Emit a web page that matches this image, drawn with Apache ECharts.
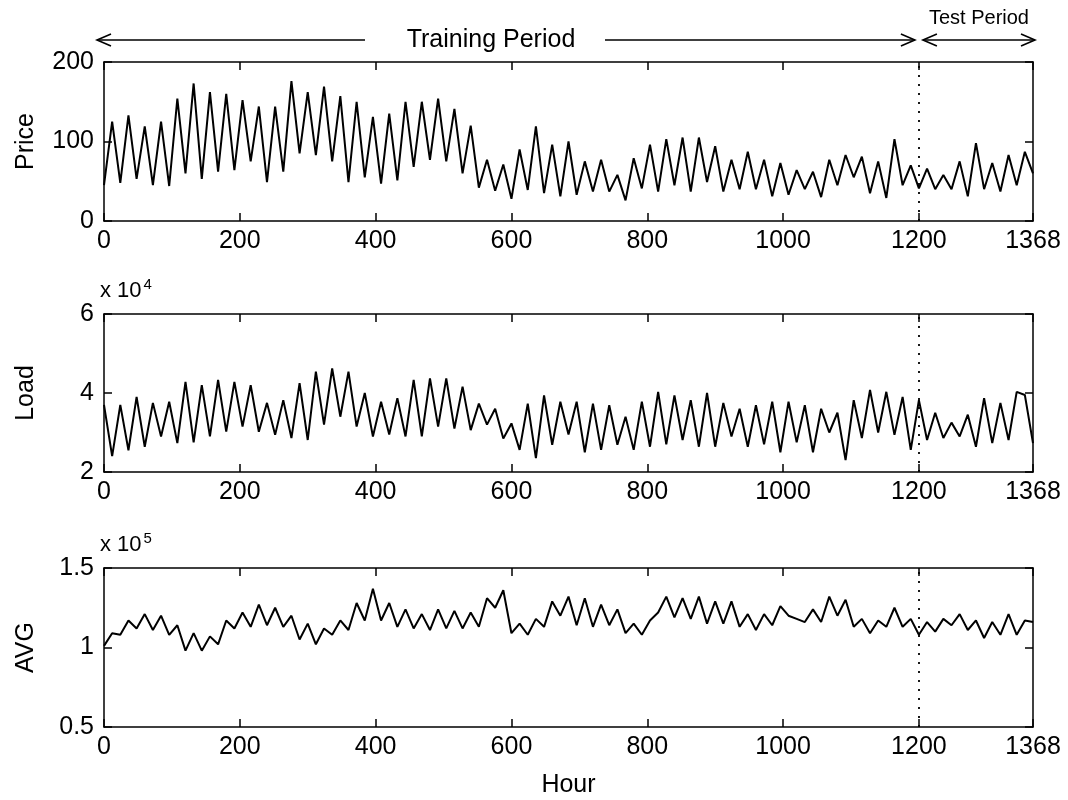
<!DOCTYPE html>
<html>
<head>
<meta charset="utf-8">
<script src="https://cdn.jsdelivr.net/npm/echarts/dist/echarts.min.js"></script>
<style>html,body{margin:0;padding:0;background:#fff}#c{width:1068px;height:800px}</style>
</head>
<body>
<div id="c"></div>
<script>
// ---- data (one value every 12 hours) ----
const STEP_HOURS = 12;
const hourMax = 1368;
const hourTickStep = 200;
const testStartHour = 1200;

const priceTicks = [0, 100, 200];
const loadTicks = [2, 4, 6];      // x 10^4
const avgTicks = [0.5, 1, 1.5];   // x 10^5

const priceValues = [
  45,125,48,133,53,119,45,125,44,154,
  60,173,53,162,62,160,64,152,75,144,
  49,144,62,176,85,162,83,169,75,157,
  49,150,55,131,47,135,51,150,68,150,
  77,154,75,141,60,120,42,77,38,71,
  28,90,39,119,35,96,31,100,33,75,
  37,77,37,58,26,79,41,96,37,103,
  45,105,37,105,49,94,37,77,40,87,
  40,77,31,73,33,64,40,62,30,77,
  45,83,55,81,35,75,29,103,45,70,
  41,66,40,58,40,75,31,98,40,73,
  37,83,45,87,60
];

const loadValues = [
  3.7,2.4,3.7,2.55,3.9,2.64,3.75,2.9,3.78,2.73,
  4.28,2.75,4.2,2.9,4.33,3.02,4.28,3.15,4.2,3.02,
  3.75,2.94,3.82,2.86,4.25,2.81,4.54,3.2,4.62,3.4,
  4.54,3.15,4.0,2.9,3.78,2.95,3.87,2.9,4.33,2.9,
  4.37,3.15,4.37,3.1,4.16,3.06,3.73,3.2,3.6,2.85,
  3.23,2.56,3.73,2.35,3.94,2.69,3.78,2.95,3.78,2.5,
  3.73,2.56,3.69,2.69,3.4,2.56,3.78,2.64,4.03,2.7,
  3.94,2.81,3.82,2.64,4.0,2.64,3.75,2.9,3.6,2.64,
  3.69,2.7,3.78,2.5,3.78,2.75,3.69,2.5,3.6,3.0,
  3.5,2.3,3.82,2.86,4.08,3.0,4.03,2.94,3.9,2.56,
  3.82,2.81,3.5,2.86,3.25,2.9,3.45,2.64,3.87,2.73,
  3.75,2.81,4.03,3.95,2.73
];

const avgValues = [
  1.01,1.09,1.08,1.17,1.12,1.21,1.11,1.20,1.08,1.14,
  0.98,1.09,0.98,1.07,1.02,1.17,1.12,1.22,1.13,1.27,
  1.14,1.25,1.13,1.20,1.05,1.15,1.02,1.12,1.08,
  1.17,1.11,1.28,1.17,1.37,1.17,1.28,1.13,1.24,1.12,
  1.21,1.11,1.24,1.12,1.23,1.12,1.22,1.13,1.31,1.25,
  1.36,1.09,1.15,1.08,1.18,1.13,1.29,1.20,
  1.32,1.14,1.31,1.13,1.27,1.14,1.24,1.09,1.15,1.08,
  1.17,1.22,1.32,1.19,1.31,1.18,1.32,1.15,1.29,1.15,
  1.29,1.13,1.21,1.11,1.21,1.14,1.26,1.20,1.18,
  1.16,1.24,1.16,1.32,1.20,1.30,1.13,1.18,1.09,1.17,
  1.13,1.25,1.13,1.18,1.08,1.16,1.10,1.18,1.14,1.21,
  1.11,1.17,1.06,1.16,1.08,1.21,1.08,1.17,1.16
];

const panelNames = ['Price', 'Load', 'AVG'];
const panelExponents = ['', '4', '5'];

// ---- chart ----
const FONT = '"Liberation Sans", Arial, Helvetica, sans-serif';
const chart = echarts.init(document.getElementById('c'), null, {renderer: 'canvas'});

const panels = [
  {name: panelNames[0], values: priceValues, ticks: priceTicks},
  {name: panelNames[1], values: loadValues, ticks: loadTicks},
  {name: panelNames[2], values: avgValues, ticks: avgTicks}
];
const gridBoxes = [{top: 62, height: 159}, {top: 314, height: 158}, {top: 568, height: 159}];
const grid = gridBoxes.map(g => ({left: 104, width: 929, top: g.top, height: g.height}));

const axisLine = {show: true, onZero: false, lineStyle: {color: '#000', width: 1.5}};
const axisTick = {show: true, inside: true, length: 8, lineStyle: {color: '#000', width: 1.5}};
const labelStyle = {color: '#000', fontSize: 25, fontFamily: FONT};
const plainNum = v => String(v);

const xAxis = [], yAxis = [], series = [];
panels.forEach((p, i) => {
  xAxis.push({
    type: 'value', gridIndex: i, position: 'bottom',
    min: 0, max: hourMax, interval: hourTickStep,
    axisLine, axisTick, splitLine: {show: false},
    axisLabel: Object.assign({margin: 8, showMinLabel: true, showMaxLabel: true, formatter: plainNum}, labelStyle),
    name: i === 2 ? 'Hour' : '', nameLocation: 'middle', nameGap: 46,
    nameTextStyle: Object.assign({}, labelStyle)
  });
  xAxis.push({
    type: 'value', gridIndex: i, position: 'top',
    min: 0, max: hourMax, interval: hourTickStep,
    axisLine, axisTick, splitLine: {show: false}, axisLabel: {show: false}
  });
  yAxis.push({
    type: 'value', gridIndex: i, position: 'left',
    min: p.ticks[0], max: p.ticks[p.ticks.length - 1], interval: p.ticks[1] - p.ticks[0],
    axisLine, axisTick, splitLine: {show: false},
    axisLabel: Object.assign({margin: 10, formatter: plainNum}, labelStyle),
    name: p.name, nameLocation: 'middle', nameRotate: 90, nameGap: 65,
    nameTextStyle: Object.assign({}, labelStyle)
  });
  yAxis.push({
    type: 'value', gridIndex: i, position: 'right',
    min: p.ticks[0], max: p.ticks[p.ticks.length - 1], interval: p.ticks[1] - p.ticks[0],
    axisLine, axisTick, splitLine: {show: false}, axisLabel: {show: false}
  });
  series.push({
    type: 'line', xAxisIndex: 2 * i, yAxisIndex: 2 * i,
    data: p.values.map((v, k) => [k * STEP_HOURS, v]),
    showSymbol: false, symbol: 'none', silent: true,
    lineStyle: {color: '#000', width: 2},
    markLine: {
      silent: true, symbol: 'none', label: {show: false},
      lineStyle: {type: [2, 7], color: '#000', width: 1.8},
      data: [{xAxis: testStartHour}]
    }
  });
});

chart.setOption({animation: false, backgroundColor: '#fff', grid, xAxis, yAxis, series});

// ---- header arrows and exponent labels ----
const px = h => chart.convertToPixel({xAxisIndex: 0}, h);
const xStart = px(0) - 7, xTest = px(testStartHour), xEnd = px(hourMax) + 2;
const arrowY = 40;
const stroke = {stroke: '#000', lineWidth: 1.6};
function seg(x1, x2, y) {
  return {type: 'line', shape: {x1, y1: y, x2, y2: y}, style: stroke, silent: true};
}
function headLeft(x, y) {
  return {type: 'polyline', shape: {points: [[x + 14, y - 6], [x, y], [x + 14, y + 6]]}, style: Object.assign({fill: null}, stroke), silent: true};
}
function headRight(x, y) {
  return {type: 'polyline', shape: {points: [[x - 14, y - 6], [x, y], [x - 14, y + 6]]}, style: Object.assign({fill: null}, stroke), silent: true};
}
const graphics = [
  seg(xStart, 365, arrowY), headLeft(xStart, arrowY),
  seg(605, xTest - 4, arrowY), headRight(xTest - 4, arrowY),
  seg(xTest + 4, xEnd, arrowY), headLeft(xTest + 4, arrowY), headRight(xEnd, arrowY),
  {type: 'text', x: 491, y: arrowY, silent: true,
   style: {text: 'Training Period', fill: '#000', font: '25px ' + FONT, textAlign: 'center', textVerticalAlign: 'middle'}},
  {type: 'text', x: (xTest + xEnd) / 2 + 2, y: 18, silent: true,
   style: {text: 'Test Period', fill: '#000', font: '20px ' + FONT, textAlign: 'center', textVerticalAlign: 'middle'}}
];
const measureCtx = document.createElement('canvas').getContext('2d');
measureCtx.font = '22px ' + FONT;
const baseW = measureCtx.measureText('x 10').width;
[1, 2].forEach(i => {
  const top = gridBoxes[i].top;
  graphics.push({type: 'text', x: 100, y: top - 12, silent: true,
    style: {text: 'x 10', fill: '#000', font: '22px ' + FONT, textAlign: 'left', textVerticalAlign: 'bottom'}});
  graphics.push({type: 'text', x: 100 + baseW + 2, y: top - 22, silent: true,
    style: {text: panelExponents[i], fill: '#000', font: '15px ' + FONT, textAlign: 'left', textVerticalAlign: 'bottom'}});
});
chart.setOption({graphic: graphics});
</script>
</body>
</html>
